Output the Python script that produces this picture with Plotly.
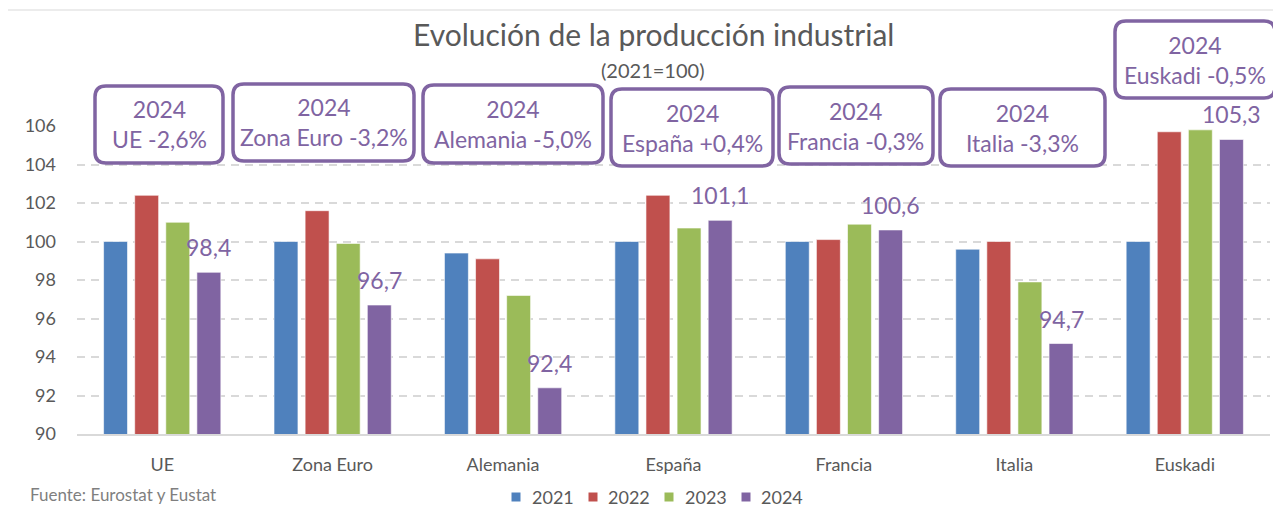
import plotly.graph_objects as go

# ---------------- data ----------------
categories = ["UE", "Zona Euro", "Alemania", "España", "Francia", "Italia", "Euskadi"]
years = ["2021", "2022", "2023", "2024"]
v2021 = [100.0, 100.0, 99.4, 100.0, 100.0, 99.6, 100.0]
v2022 = [102.4, 101.6, 99.1, 102.4, 100.1, 100.0, 105.7]
v2023 = [101.0, 99.9, 97.2, 100.7, 100.9, 97.9, 105.8]
v2024 = [98.4, 96.7, 92.4, 101.1, 100.6, 94.7, 105.3]
box_labels = ["UE -2,6%", "Zona Euro -3,2%", "Alemania -5,0%", "España +0,4%",
              "Francia -0,3%", "Italia -3,3%", "Euskadi -0,5%"]
y_ticks = [90, 92, 94, 96, 98, 100, 102, 104, 106]

# ---------------- styles / layout ----------------
colors = ["#4F81BD", "#C0504D", "#9BBB59", "#8064A2"]
PURPLE = "#8064A2"
GREY = "#595959"
FONT = "Lato"
OX, OY = 8, 8                      # default page body margin
W, H = 1281 - OX, 508 - OY
# plot area in page pixels
PL, PR, PT, PB = 77, 1270, 126, 434
BARGAP, BARGROUPGAP = 0.27, 0.23

# box geometry in page pixels (x0, x1, y0, y1)
box_px = [(95, 223, 86, 163), (233, 414, 84, 161), (423, 603, 85, 163),
          (611, 773, 89, 166), (779, 933, 87, 164), (940, 1105, 89, 166),
          (1115, 1275, 21, 98)]
# legend geometry (square centre x, text left x) in page pixels
legend_px = [(516, 530), (593, 606), (669, 683), (746, 759)]
LEG_Y = 497


def px_x(p):
    return (p - PL) / (PR - PL)


def px_y(p):
    return (PB - p) / (PB - PT)


fig = go.Figure()
for yr, vals, c in zip(years, [v2021, v2022, v2023, v2024], colors):
    fig.add_trace(go.Bar(
        x=categories, y=vals, name=yr,
        marker=dict(color=c, line=dict(color="rgba(255,255,255,0.6)", width=1)),
        hoverinfo="x+y",
    ))

# data labels above 2024 bars
slot = (1 - BARGAP) / 4
off = 1.5 * slot
annotations = []
for i, v in enumerate(v2024):
    annotations.append(dict(
        x=i + off, y=v, xref="x", yref="y",
        text=f"{v:.1f}".replace(".", ","),
        showarrow=False, yanchor="middle", yshift=25,
        font=dict(family=FONT, size=23, color=PURPLE),
    ))

# rounded boxes
shapes = []
r = 11
rx = r / (PR - PL)
ry = r / (PB - PT)
for (x0, x1, y0, y1), lab in zip(box_px, box_labels):
    a, b = px_x(x0), px_x(x1)
    top, bot = px_y(y0), px_y(y1)
    path = (f"M {a+rx},{top} L {b-rx},{top} Q {b},{top} {b},{top-ry} "
            f"L {b},{bot+ry} Q {b},{bot} {b-rx},{bot} "
            f"L {a+rx},{bot} Q {a},{bot} {a},{bot+ry} "
            f"L {a},{top-ry} Q {a},{top} {a+rx},{top} Z")
    shapes.append(dict(type="path", path=path, xref="paper", yref="paper",
                       line=dict(color=PURPLE, width=3.5), fillcolor="white",
                       layer="above"))
    annotations.append(dict(
        x=(a + b) / 2, y=(top + bot) / 2, xref="paper", yref="paper",
        text=f"2024<br>{lab}", showarrow=False, xanchor="center", yanchor="middle",
        align="center", font=dict(family=FONT, size=23, color=PURPLE),
    ))

# legend (drawn manually)
for (sq, tx), yr, c in zip(legend_px, years, colors):
    shapes.append(dict(type="rect", xref="paper", yref="paper",
                       x0=px_x(sq - 4.5), x1=px_x(sq + 4.5),
                       y0=px_y(LEG_Y + 4.5), y1=px_y(LEG_Y - 4.5),
                       fillcolor=c, line=dict(width=0)))
    annotations.append(dict(x=px_x(tx), y=px_y(LEG_Y), xref="paper", yref="paper",
                            text=yr, showarrow=False, xanchor="left", yanchor="middle",
                            font=dict(family=FONT, size=18, color=GREY)))

# top border line
shapes.append(dict(type="line", xref="paper", yref="paper",
                   x0=px_x(8), x1=px_x(1290), y0=px_y(10), y1=px_y(10),
                   line=dict(color="#D9D9D9", width=1)))

# title & subtitle
annotations.append(dict(x=px_x(653), y=px_y(34), xref="paper", yref="paper",
                        text="Evolución de la producción industrial", showarrow=False,
                        xanchor="center", yanchor="middle",
                        font=dict(family=FONT, size=30, color=GREY)))
annotations.append(dict(x=px_x(652), y=px_y(70), xref="paper", yref="paper",
                        text="(2021=100)", showarrow=False,
                        xanchor="center", yanchor="middle",
                        font=dict(family=FONT, size=20, color=GREY)))
# source
annotations.append(dict(x=px_x(28), y=px_y(507), xref="paper", yref="paper",
                        text="Fuente: Eurostat y Eustat", showarrow=False,
                        xanchor="left", yanchor="bottom",
                        font=dict(family=FONT, size=17, color="#7F7F7F")))

fig.update_layout(
    width=W, height=H,
    margin=dict(l=PL - OX, r=1281 - PR, t=PT - OY, b=508 - PB, pad=0, autoexpand=False),
    paper_bgcolor="white", plot_bgcolor="white",
    barmode="group", bargap=BARGAP, bargroupgap=BARGROUPGAP,
    font=dict(family=FONT, color=GREY),
    showlegend=False,
    annotations=annotations, shapes=shapes,
)
fig.update_xaxes(showgrid=False, showline=True, linecolor="#D9D9D9", linewidth=2,
                 ticks="", tickfont=dict(family=FONT, size=18, color=GREY),
                 ticklabelstandoff=13, fixedrange=True)
fig.update_yaxes(range=[90, 106], tickvals=y_ticks, ticktext=[str(t) for t in y_ticks],
                 showgrid=True, gridcolor="#D9D9D9", gridwidth=1.5, griddash="8px,6px",
                 zeroline=False, showline=False, ticks="",
                 tickfont=dict(family=FONT, size=18, color=GREY),
                 ticklabelstandoff=20, fixedrange=True)

fig.write_html("out.html")
